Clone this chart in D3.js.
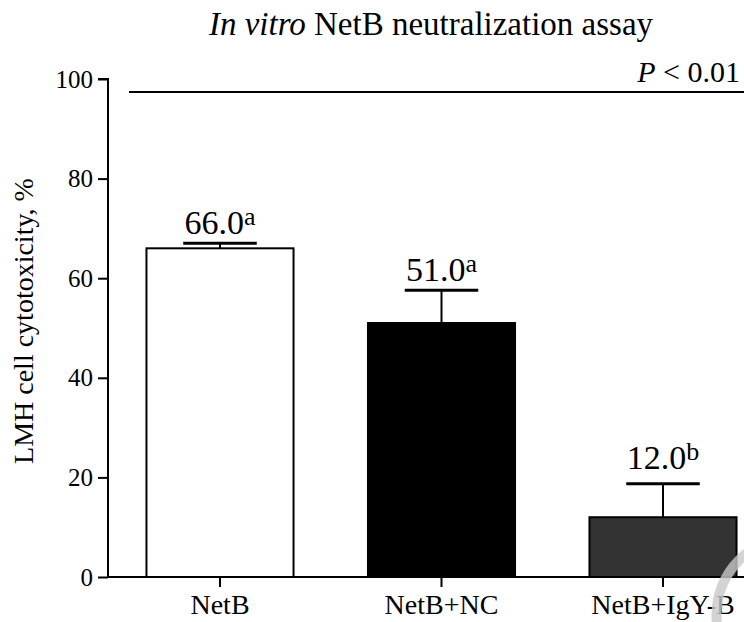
<!DOCTYPE html>
<html>
<head>
<meta charset="utf-8">
<script src="https://cdn.jsdelivr.net/npm/d3@7"></script>
<style>
  html, body { margin: 0; padding: 0; background: #fff; }
  svg { display: block; font-family: "Liberation Serif", "Times New Roman", serif; }
</style>
</head>
<body>
<svg id="chart" width="744" height="622"></svg>
<script>
// Cytotoxicity of NetB on LMH cells, mean ± SEM
const categories = ["NetB", "NetB+NC", "NetB+IgY-B"];
const means = [66.0, 51.0, 12.0];
const errors = [1.0, 6.6, 6.7];
const letters = ["a", "a", "b"];
const fills = ["#ffffff", "#000000", "#333333"];
const yTicks = [0, 20, 40, 60, 80, 100];
const sigLevel = 97.4;

const svg = d3.select("#chart");

const y = d3.scaleLinear().domain([0, 100]).range([577, 79]);
const x = d3.scaleBand()
  .domain(categories)
  .range([109.25, 773.75])
  .paddingInner(0.336)
  .paddingOuter(0.168);

const axisX0 = 108;
const serif = "Liberation Serif, Times New Roman, serif";

// Title
svg.append("text")
  .attr("x", 431)
  .attr("y", 35)
  .attr("text-anchor", "middle")
  .attr("font-size", 33)
  .call(t => {
    t.append("tspan").attr("font-style", "italic").text("In vitro");
    t.append("tspan").text(" NetB neutralization assay");
  });

// Bars
svg.append("g").selectAll("rect")
  .data(categories)
  .join("rect")
  .attr("x", d => x(d))
  .attr("y", (d, i) => y(means[i]))
  .attr("width", x.bandwidth())
  .attr("height", (d, i) => y(0) - y(means[i]))
  .attr("fill", (d, i) => fills[i])
  .attr("stroke", "#000")
  .attr("stroke-width", 2);

// Error bars (upper only)
const eb = svg.append("g").attr("stroke", "#000");
categories.forEach((c, i) => {
  const cx = x(c) + x.bandwidth() / 2;
  const capHalf = x.bandwidth() / 4;
  eb.append("line")
    .attr("x1", cx).attr("x2", cx)
    .attr("y1", y(means[i])).attr("y2", y(means[i] + errors[i]))
    .attr("stroke-width", 2);
  eb.append("line")
    .attr("x1", cx - capHalf).attr("x2", cx + capHalf)
    .attr("y1", y(means[i] + errors[i])).attr("y2", y(means[i] + errors[i]))
    .attr("stroke-width", 3);
});

// Value labels with significance letters
svg.append("g").selectAll("text")
  .data(categories)
  .join("text")
  .attr("x", d => x(d) + x.bandwidth() / 2)
  .attr("y", (d, i) => y(means[i] + errors[i]) - (i === 2 ? 15 : 9))
  .attr("text-anchor", "middle")
  .attr("font-size", 34)
  .each(function (d, i) {
    const t = d3.select(this);
    t.append("tspan").text(d3.format(".1f")(means[i]));
    t.append("tspan").attr("font-size", 26).attr("dy", -9).text(letters[i]);
  });

// Y axis
const yAxis = svg.append("g")
  .attr("transform", `translate(${axisX0},0)`)
  .call(d3.axisLeft(y).tickValues(yTicks).tickSize(10).tickPadding(5));
yAxis.select(".domain").attr("d", `M-10,${y(100)}H0V${y(0)}`).attr("stroke-width", 2);
yAxis.selectAll(".tick line").attr("stroke-width", 2);
yAxis.selectAll(".tick text").attr("font-size", 25).attr("font-family", serif).attr("fill", "#000");

// X axis
const xAxis = svg.append("g")
  .attr("transform", `translate(0,${y(0)})`)
  .call(d3.axisBottom(x).tickSize(10).tickPadding(7));
xAxis.select(".domain").attr("d", `M${axisX0},0H744`).attr("stroke-width", 2);
xAxis.selectAll(".tick line").attr("stroke-width", 2);
xAxis.selectAll(".tick text").attr("font-size", 28).attr("font-family", serif).attr("fill", "#000");

// Y axis title
svg.append("text")
  .attr("transform", "rotate(-90)")
  .attr("x", -321)
  .attr("y", 33)
  .attr("text-anchor", "middle")
  .attr("font-size", 28)
  .text("LMH cell cytotoxicity, %");

// Overall significance line
svg.append("line")
  .attr("x1", 129).attr("x2", 744)
  .attr("y1", y(sigLevel)).attr("y2", y(sigLevel))
  .attr("stroke", "#000").attr("stroke-width", 2);
svg.append("text")
  .attr("x", 740)
  .attr("y", y(sigLevel) - 10)
  .attr("text-anchor", "end")
  .attr("font-size", 30)
  .call(t => {
    t.append("tspan").attr("font-style", "italic").text("P");
    t.append("tspan").text(" < 0.01");
  });

// Faint emblem arc in the lower-right corner
svg.append("circle")
  .attr("cx", 794.5).attr("cy", 615).attr("r", 78)
  .attr("fill", "none")
  .attr("stroke", "rgb(200,200,200)")
  .attr("stroke-opacity", 0.8)
  .attr("stroke-width", 10);
</script>
</body>
</html>
